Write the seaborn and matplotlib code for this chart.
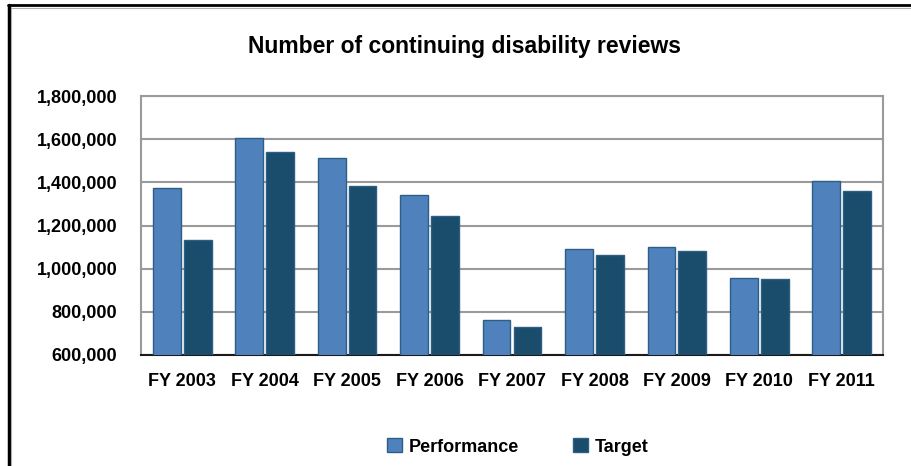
import pandas as pd
import matplotlib
matplotlib.use("Agg")
import matplotlib.pyplot as plt
import seaborn as sns
from matplotlib.lines import Line2D
from matplotlib.patches import Patch

# chart values
years = ["FY 2003", "FY 2004", "FY 2005", "FY 2006", "FY 2007",
         "FY 2008", "FY 2009", "FY 2010", "FY 2011"]
performance = [1372000, 1605000, 1512000, 1340000, 763000,
               1093000, 1101000, 958000, 1408000]
target = [1132000, 1540000, 1383000, 1243000, 732000,
          1065000, 1082000, 954000, 1358000]
series_names = ["Performance", "Target"]
y_ticks = [600000, 800000, 1000000, 1200000, 1400000, 1600000, 1800000]

colors = {"Performance": "#4F81BD", "Target": "#1A4C6B"}

df = pd.DataFrame({
    "Year": years * 2,
    "Series": ["Performance"] * len(years) + ["Target"] * len(years),
    "Value": performance + target,
})

sns.set_theme(style="white")
plt.rcParams["font.family"] = ["Liberation Sans", "DejaVu Sans"]
plt.rcParams["text.color"] = "black"
plt.rcParams["xtick.color"] = "black"
plt.rcParams["ytick.color"] = "black"

fig = plt.figure(figsize=(9.12, 4.66), dpi=100)
ax = fig.add_axes([141 / 912, 1 - 355 / 466, 742 / 912, 259 / 466])

sns.barplot(data=df, x="Year", y="Value", hue="Series", order=years,
            hue_order=series_names, palette=colors, saturation=1,
            width=0.75, gap=0.1, edgecolor="#2D5F86", linewidth=1.0,
            ax=ax, legend=False, zorder=3)

ax.set_ylim(600000, 1800000)
ax.set_yticks(y_ticks)
ax.set_yticklabels([f"{v:,}" for v in y_ticks], fontsize=13, fontweight="bold")
ax.set_xticks(range(len(years)))
ax.set_xticklabels(years, fontsize=13, fontweight="bold")
ax.tick_params(axis="y", length=0, pad=17, colors="black")
ax.tick_params(axis="x", length=0, pad=13, colors="black")
ax.set_xlabel("")
ax.set_ylabel("")
ax.set_xlim(-0.5, len(years) - 0.5)

# gridlines like the original office chart
ax.yaxis.grid(True, color="#9A9A9A", linewidth=1.5, zorder=0)
ax.set_axisbelow(True)
for side in ["left", "top", "right"]:
    ax.spines[side].set_color("#9A9A9A")
    ax.spines[side].set_linewidth(1.5)
ax.spines["bottom"].set_color("#1A1A1A")
ax.spines["bottom"].set_linewidth(1.5)

fig.text(465 / 912, 1 - 47 / 466, "Number of continuing disability reviews",
         ha="center", va="center", fontsize=16.5, fontweight="bold",
         color="black")

handles = [Patch(facecolor=colors[s], edgecolor="#2D5F86", linewidth=1.0)
           for s in series_names]
fig.legend(handles, series_names, loc="center", ncol=2,
           bbox_to_anchor=(518 / 912, 1 - 447 / 466), frameon=False,
           prop={"size": 13, "weight": "bold"}, handlelength=0.8,
           handleheight=0.8, handletextpad=0.4, columnspacing=3.0)

# outer frame of the pasted chart
fig.add_artist(Line2D([9 / 912, 9 / 912], [0, 1 - 5 / 466], color="black",
                      linewidth=2.5))
fig.add_artist(Line2D([8 / 912, 1], [1 - 5 / 466, 1 - 5 / 466], color="black",
                      linewidth=2))
fig.add_artist(Line2D([11.5 / 912, 11.5 / 912], [0, 1 - 7.5 / 466],
                      color="#B0B0B0", linewidth=0.8))
fig.add_artist(Line2D([11.5 / 912, 1], [1 - 7.5 / 466, 1 - 7.5 / 466],
                      color="#B0B0B0", linewidth=0.8))

fig.savefig("out.png", dpi=100)
